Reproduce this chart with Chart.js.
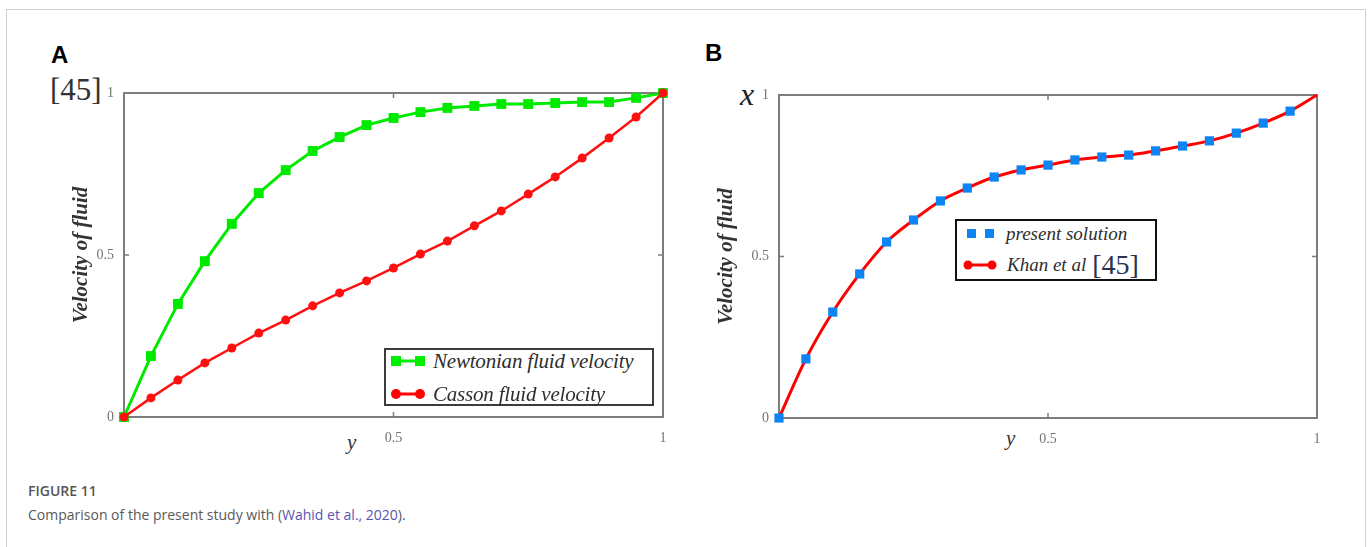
<!DOCTYPE html>
<html>
<head>
<meta charset="utf-8">
<script src="https://cdn.jsdelivr.net/npm/chart.js@4.4.1/dist/chart.umd.min.js"></script>
<style>
  html,body{margin:0;padding:0;background:#fff;}
  body{width:1371px;height:547px;position:relative;overflow:hidden;}
  .frame{position:absolute;left:6px;top:9px;width:1360px;height:560px;border:1px solid #cfcfcf;box-sizing:border-box;}
  canvas{position:absolute;}
  .abs{position:absolute;white-space:nowrap;line-height:1;}
  .serif{font-family:"Liberation Serif","DejaVu Serif",serif;}
  .legend{position:absolute;border:2px solid #3c3c3c;background:#fff;box-sizing:border-box;}
  .row{position:absolute;left:0;display:flex;align-items:center;white-space:nowrap;}
  .lt{font-family:"Liberation Serif",serif;font-style:italic;color:#2e2e2e;}
</style>
</head>
<body>
<div class="frame"></div>
<div class="abs" style="left:51px;top:43px;font-family:'Liberation Sans',Arial,sans-serif;font-weight:bold;font-size:24px;color:#000;">A</div>
<div class="abs" style="left:705px;top:41px;font-family:'Liberation Sans',Arial,sans-serif;font-weight:bold;font-size:24px;color:#000;">B</div>
<div class="abs serif" style="left:50px;top:74px;font-size:31px;color:#333;">[45]</div>
<div class="abs serif" style="left:740px;top:78px;font-size:32px;font-style:italic;color:#222;">x</div>
<div class="abs serif" style="left:347px;top:432px;font-size:21px;font-style:italic;color:#333;">y</div>
<div class="abs serif" style="left:1006px;top:428px;font-size:21px;font-style:italic;color:#333;">y</div>

<canvas id="cA" width="620" height="370" style="left:60px;top:80px;width:620px;height:370px;"></canvas>
<canvas id="cB" width="630" height="370" style="left:705px;top:80px;width:630px;height:370px;"></canvas>

<div class="legend" style="left:384px;top:348px;width:270px;height:58px;">
  <div class="row" style="top:1px;height:20px;left:5px;">
    <svg width="34" height="14"><line x1="5" y1="7" x2="29" y2="7" stroke="#00ee00" stroke-width="3"/><rect x="0" y="2" width="10" height="10" fill="#00ee00"/><rect x="24" y="2" width="10" height="10" fill="#00ee00"/></svg>
    <span class="lt" style="font-size:21px;margin-left:8px;letter-spacing:-0.2px;">Newtonian fluid velocity</span>
  </div>
  <div class="row" style="top:34px;height:20px;left:5px;">
    <svg width="34" height="14"><line x1="5" y1="7" x2="29" y2="7" stroke="#ff0000" stroke-width="3"/><circle cx="5" cy="7" r="5" fill="#ff0000"/><circle cx="29" cy="7" r="5" fill="#ff0000"/></svg>
    <span class="lt" style="font-size:21px;margin-left:8px;letter-spacing:-0.2px;">Casson fluid velocity</span>
  </div>
</div>

<div class="legend" style="left:955px;top:219px;width:202px;height:62px;border-color:#111;">
  <div class="row" style="top:3px;height:20px;left:9px;">
    <svg width="30" height="12"><rect x="1" y="1" width="9" height="9" fill="#0c84f2"/><rect x="19" y="1" width="9" height="9" fill="#0c84f2"/></svg>
    <span class="lt" style="font-size:19px;margin-left:10px;">present solution</span>
  </div>
  <div class="row" style="top:30px;height:28px;left:6px;">
    <svg width="34" height="12"><line x1="5" y1="6" x2="29" y2="6" stroke="#ff0000" stroke-width="3"/><circle cx="5" cy="6" r="4.5" fill="#ff0000"/><circle cx="29" cy="6" r="4.5" fill="#ff0000"/></svg>
    <span class="lt" style="font-size:19px;margin-left:10px;">Khan et al</span>
    <span class="serif" style="font-size:28px;margin-left:6px;color:#2a3350;">[45]</span>
  </div>
</div>

<div class="abs" style="left:28px;top:484px;font-family:'Open Sans',sans-serif;font-weight:600;font-size:14px;color:#555;">FIGURE 11</div>
<div class="abs" style="left:28px;top:508px;font-family:'Open Sans',sans-serif;font-size:14px;color:#595959;">Comparison of the present study with (<span style="color:#5a55b0;">Wahid et al., 2020</span>).</div>

<script>
// ---- data ----
const yPositions = [0, 0.05, 0.1, 0.15, 0.2, 0.25, 0.3, 0.35, 0.4, 0.45, 0.5, 0.55, 0.6, 0.65, 0.7, 0.75, 0.8, 0.85, 0.9, 0.95, 1];
const newtonianVelocity = [0, 0.188, 0.349, 0.481, 0.596, 0.691, 0.762, 0.821, 0.864, 0.901, 0.923, 0.941, 0.954, 0.960, 0.966, 0.966, 0.969, 0.972, 0.972, 0.985, 1];
const cassonVelocity = [0, 0.059, 0.114, 0.167, 0.213, 0.259, 0.299, 0.343, 0.383, 0.420, 0.460, 0.503, 0.543, 0.590, 0.636, 0.688, 0.741, 0.799, 0.861, 0.926, 1];
const presentSolution = [0, 0.183, 0.328, 0.446, 0.545, 0.613, 0.672, 0.712, 0.746, 0.768, 0.783, 0.799, 0.808, 0.814, 0.827, 0.842, 0.858, 0.882, 0.913, 0.950, null];
const khanEtAl = [0, 0.183, 0.328, 0.446, 0.545, 0.613, 0.672, 0.712, 0.746, 0.768, 0.783, 0.799, 0.808, 0.814, 0.827, 0.842, 0.858, 0.882, 0.913, 0.950, 1];
const xTickValues = [0, 0.5, 1];
const yTickValues = [0, 0.5, 1];
const xTickLabels = ['', '0.5', '1'];
const yTickLabels = ['0', '0.5', '1'];
const yAxisTitle = 'Velocity of fluid';

const pts = arr => yPositions.map((x, i) => ({x: x, y: arr[i]}));

const framePlugin = {
  id: 'frame',
  beforeDatasetsDraw(chart) {
    const {ctx, chartArea: a, scales: {x, y}} = chart;
    ctx.save();
    ctx.strokeStyle = '#7d7d7d';
    ctx.lineWidth = 2;
    ctx.strokeRect(a.left, a.top, a.right - a.left, a.bottom - a.top);
    ctx.lineWidth = 1.5;
    ctx.beginPath();
    xTickValues.forEach(v => {
      const px = x.getPixelForValue(v);
      ctx.moveTo(px, a.bottom); ctx.lineTo(px, a.bottom - 5);
      ctx.moveTo(px, a.top); ctx.lineTo(px, a.top + 5);
    });
    yTickValues.forEach(v => {
      const py = y.getPixelForValue(v);
      ctx.moveTo(a.left, py); ctx.lineTo(a.left + 5, py);
      ctx.moveTo(a.right, py); ctx.lineTo(a.right - 5, py);
    });
    ctx.stroke();
    ctx.restore();
  }
};

function scalesCfg(yWidth, xHeight) {
  return {
    x: {
      type: 'linear', min: 0, max: 1,
      afterBuildTicks: s => { s.ticks = xTickValues.map(v => ({value: v})); },
      afterFit: s => { s.height = xHeight; },
      ticks: {
        autoSkip: false, maxRotation: 0, padding: 5,
        color: '#737373',
        font: {family: 'Liberation Serif', size: 14},
        callback: (v, i) => xTickLabels[i]
      },
      grid: {display: false},
      border: {display: false}
    },
    y: {
      type: 'linear', min: 0, max: 1,
      afterBuildTicks: s => { s.ticks = yTickValues.map(v => ({value: v})); },
      afterFit: s => { s.width = yWidth; },
      ticks: {
        autoSkip: false, padding: 2,
        color: '#737373',
        font: {family: 'Liberation Serif', size: 14},
        callback: (v, i) => yTickLabels[i]
      },
      grid: {display: false},
      border: {display: false},
      title: {
        display: true, text: yAxisTitle, color: '#333',
        font: {family: 'Liberation Serif', size: 21, style: 'italic', weight: 'bold'},
        padding: {top: 3, bottom: 0}
      }
    }
  };
}

new Chart(document.getElementById('cA'), {
  type: 'line',
  data: {
    datasets: [
      {label: 'Casson fluid velocity', data: pts(cassonVelocity), borderColor: '#ff1010', backgroundColor: '#ff1010',
       borderWidth: 2.5, pointStyle: 'circle', pointRadius: 4.5, pointBorderWidth: 0, tension: 0, clip: false},
      {label: 'Newtonian fluid velocity', data: pts(newtonianVelocity), borderColor: '#00ea00', backgroundColor: '#00ea00',
       borderWidth: 3, pointStyle: 'rect', pointRadius: 7, pointBorderWidth: 0, tension: 0, clip: false}
    ]
  },
  options: {
    responsive: false, animation: false, events: [],
    layout: {padding: {left: 6, top: 13, right: 17, bottom: 0}},
    plugins: {legend: {display: false}, tooltip: {enabled: false}},
    scales: scalesCfg(58, 33)
  },
  plugins: [framePlugin]
});

new Chart(document.getElementById('cB'), {
  type: 'line',
  data: {
    datasets: [
      {label: 'present solution', data: pts(presentSolution), showLine: false, borderColor: '#0c84f2', backgroundColor: '#0c84f2',
       pointStyle: 'rect', pointRadius: 6.5, pointBorderWidth: 0, clip: false},
      {label: 'Khan et al [45]', data: pts(khanEtAl), borderColor: '#ff0000', backgroundColor: '#ff0000',
       borderWidth: 3, pointRadius: 0, cubicInterpolationMode: 'monotone', clip: false}
    ]
  },
  options: {
    responsive: false, animation: false, events: [],
    layout: {padding: {left: 6, top: 15, right: 18, bottom: 0}},
    plugins: {legend: {display: false}, tooltip: {enabled: false}},
    scales: scalesCfg(68, 32)
  },
  plugins: [framePlugin]
});
</script>
</body>
</html>
